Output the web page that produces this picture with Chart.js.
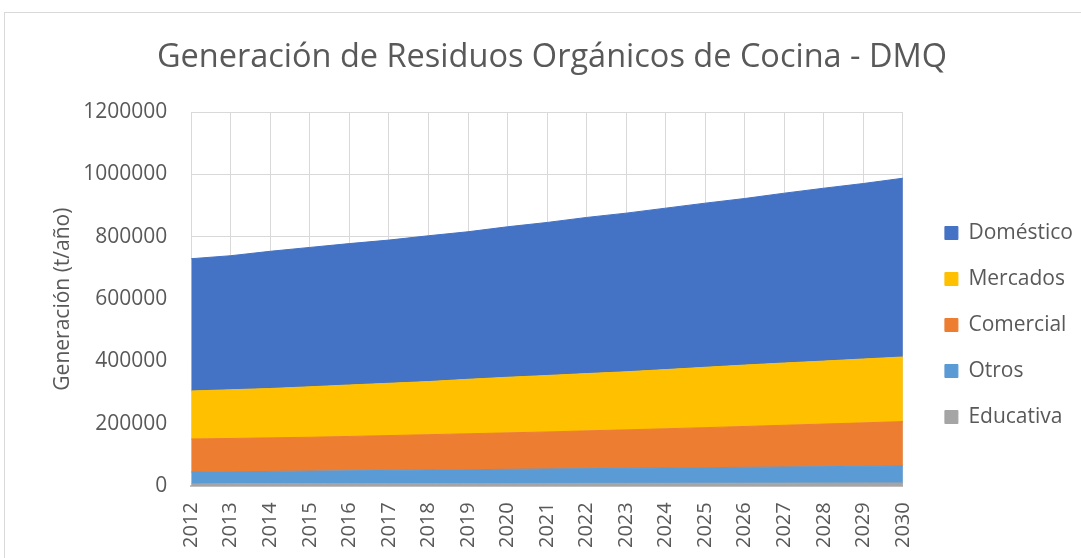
<!DOCTYPE html>
<html>
<head>
<meta charset="utf-8">
<script src="https://cdn.jsdelivr.net/npm/chart.js@4"></script>
<style>
  body { margin: 0; background: #fff; }
  #frame { position: absolute; left: 4px; top: 12px; width: 1100px; height: 600px; border: 1px solid #d9d9d9; }
  #myChart { position: absolute; left: 0; top: 0; }
</style>
</head>
<body>
<div id="frame"></div>
<canvas id="myChart" width="1081" height="558"></canvas>
<script>
// years on the x axis
var years = ['2012', '2013', '2014', '2015', '2016', '2017', '2018', '2019', '2020', '2021',
             '2022', '2023', '2024', '2025', '2026', '2027', '2028', '2029', '2030'];

// generation per sector (t/año)
var educativa = [7500, 7700, 7800, 8000, 8200, 8300, 8500, 8700, 8800, 9000,
                 9200, 9300, 9500, 9700, 9800, 10000, 10200, 10400, 10500];
var otros = [38300, 39000, 39800, 40600, 41500, 42500, 43400, 44400, 45500, 46500,
             47300, 48200, 49000, 49900, 50900, 51800, 52700, 53600, 54600];
var comercial = [105800, 106500, 107600, 108500, 110000, 111700, 113500, 115200, 116900, 118600,
                 121100, 123300, 125800, 128300, 131000, 133800, 136500, 139300, 142300];
var mercados = [153900, 156200, 158300, 161900, 165100, 167700, 170300, 174700, 178300, 181100,
                183700, 186300, 189800, 193600, 196900, 199700, 202000, 204800, 207100];
var domestico = [424100, 429800, 439900, 446800, 453300, 459100, 467500, 473000, 482500, 490600,
                 500600, 508600, 517600, 526200, 534100, 544400, 554300, 562600, 573200];

var yTicks = [0, 200000, 400000, 600000, 800000, 1000000, 1200000];

var fontFamily = "'Open Sans', sans-serif";
var textColor = '#595959';
var gridColor = '#d9d9d9';

function area(label, values, color, fill) {
  return {
    label: label,
    data: values,
    backgroundColor: color,
    borderColor: color,
    borderWidth: 1,
    pointRadius: 0,
    fill: fill
  };
}

// nudge the legend: a little gap after the plot and lower down, like the Excel one
var legendNudge = {
  id: 'legendNudge',
  afterLayout: function(chart) {
    chart.legend.left += 17;
    chart.legend.right += 17;
    chart.legend.top += 43;
    chart.legend.bottom += 43;
  }
};

var ctx = document.getElementById('myChart').getContext('2d');
var myChart = new Chart(ctx, {
  type: 'line',
  data: {
    labels: years,
    // bottom of the stack first
    datasets: [
      area('Educativa', educativa, '#a5a5a5', 'origin'),
      area('Otros', otros, '#5b9bd5', '-1'),
      area('Comercial', comercial, '#ed7d31', '-1'),
      area('Mercados', mercados, '#ffc000', '-1'),
      area('Doméstico', domestico, '#4472c4', '-1')
    ]
  },
  options: {
    responsive: false,
    animation: false,
    devicePixelRatio: 1,
    layout: { padding: { left: 38, right: 15, bottom: -6, top: 0 } },
    scales: {
      x: {
        offset: false,
        grid: { color: gridColor, lineWidth: 1, drawTicks: false },
        border: { color: '#bfbfbf', width: 2 },
        ticks: {
          color: textColor,
          font: { family: fontFamily, size: 20 },
          minRotation: 90,
          maxRotation: 90,
          padding: 16
        }
      },
      y: {
        stacked: true,
        min: 0,
        max: 1200000,
        afterBuildTicks: function(scale) {
          scale.ticks = yTicks.map(function(v) { return { value: v }; });
        },
        grid: { color: gridColor, lineWidth: 1, drawTicks: false },
        border: { display: false },
        ticks: {
          color: textColor,
          font: { family: fontFamily, size: 21 },
          padding: 24,
          callback: function(v) { return String(v); }
        },
        title: {
          display: true,
          text: 'Generación (t/año)',
          color: textColor,
          font: { family: fontFamily, size: 21 },
          padding: { top: 12, bottom: -16 }
        }
      }
    },
    plugins: {
      title: {
        display: true,
        text: 'Generación de Residuos Orgánicos de Cocina - DMQ',
        color: textColor,
        font: { family: fontFamily, size: 32.5, weight: 'normal' },
        padding: { top: 38, bottom: 35 }
      },
      legend: {
        position: 'right',
        reverse: true,
        labels: {
          color: textColor,
          font: { family: fontFamily, size: 21 },
          boxWidth: 13,
          boxHeight: 13,
          padding: 25
        }
      },
      tooltip: { enabled: false }
    }
  },
  plugins: [legendNudge]
});
</script>
</body>
</html>
